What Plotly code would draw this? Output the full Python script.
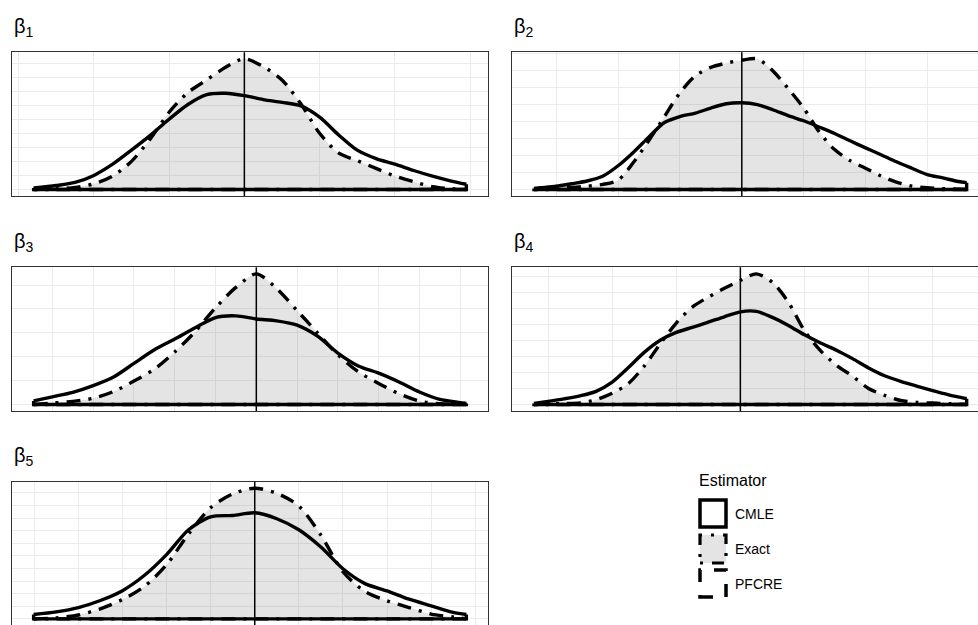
import plotly.graph_objects as go

# ---------------- data (density estimates) ----------------
panel_names = ["β<sub>1</sub>", "β<sub>2</sub>", "β<sub>3</sub>", "β<sub>4</sub>", "β<sub>5</sub>"]
true_values = [0, 0, 0, 0, 0]

p1_x = [-0.28, -0.25, -0.225, -0.2, -0.175, -0.15, -0.125, -0.1, -0.075, -0.05, -0.025, 0,
        0.025, 0.05, 0.075, 0.1, 0.125, 0.15, 0.175, 0.2, 0.225, 0.25, 0.275, 0.295]
p1_exact = [0, 0.005, 0.015, 0.04, 0.095, 0.20, 0.36, 0.55, 0.69, 0.78, 0.87, 0.93,
            0.875, 0.78, 0.61, 0.40, 0.26, 0.205, 0.15, 0.095, 0.055, 0.02, 0.005, 0]
p1_cmle = [0.01, 0.028, 0.05, 0.10, 0.18, 0.28, 0.385, 0.50, 0.605, 0.675, 0.685, 0.668,
           0.64, 0.62, 0.595, 0.515, 0.39, 0.28, 0.22, 0.18, 0.135, 0.095, 0.06, 0.037]

p2_x = [-0.336, -0.325, -0.3, -0.275, -0.25, -0.225, -0.2, -0.175, -0.15, -0.125, -0.1, -0.075,
        -0.05, -0.025, 0, 0.025, 0.05, 0.075, 0.1, 0.125, 0.15, 0.175, 0.2, 0.225, 0.25, 0.275,
        0.3, 0.325, 0.35, 0.3635]
p2_exact = [0, 0.002, 0.007, 0.012, 0.019, 0.03, 0.055, 0.16, 0.29, 0.43, 0.57, 0.67,
            0.72, 0.745, 0.762, 0.77, 0.70, 0.595, 0.48, 0.34, 0.235, 0.17, 0.125, 0.08, 0.043,
            0.02, 0.01, 0.005, 0.002, 0]
p2_cmle = [0.006, 0.01, 0.019, 0.034, 0.05, 0.078, 0.14, 0.22, 0.31, 0.395, 0.43, 0.45,
           0.48, 0.505, 0.511, 0.50, 0.47, 0.435, 0.405, 0.368, 0.33, 0.287, 0.245, 0.205, 0.163,
           0.125, 0.088, 0.068, 0.047, 0.04]

p3_x = [-0.546, -0.5, -0.45, -0.4, -0.35, -0.3, -0.25, -0.2, -0.15, -0.1, -0.05, 0,
        0.05, 0.1, 0.15, 0.2, 0.25, 0.3, 0.35, 0.4, 0.45, 0.5, 0.515]
p3_exact = [0, 0.006, 0.013, 0.026, 0.054, 0.098, 0.148, 0.22, 0.305, 0.405, 0.49, 0.547,
            0.485, 0.393, 0.30, 0.208, 0.137, 0.088, 0.045, 0.014, 0.003, 0.001, 0]
p3_cmle = [0.015, 0.032, 0.051, 0.079, 0.115, 0.172, 0.229, 0.274, 0.321, 0.364, 0.371, 0.358,
           0.35, 0.332, 0.286, 0.215, 0.161, 0.131, 0.094, 0.052, 0.021, 0.008, 0.004]

p4_x = [-0.322, -0.3, -0.275, -0.25, -0.225, -0.2, -0.175, -0.15, -0.125, -0.1, -0.075, -0.05,
        -0.025, 0, 0.025, 0.05, 0.075, 0.1, 0.125, 0.15, 0.175, 0.2, 0.225, 0.25, 0.275, 0.3,
        0.325, 0.353]
p4_exact = [0, 0.003, 0.006, 0.01, 0.03, 0.07, 0.13, 0.24, 0.38, 0.51, 0.61, 0.672,
            0.727, 0.776, 0.818, 0.765, 0.64, 0.462, 0.337, 0.245, 0.177, 0.10, 0.057, 0.025,
            0.013, 0.009, 0.005, 0]
p4_cmle = [0.006, 0.019, 0.035, 0.054, 0.082, 0.14, 0.23, 0.326, 0.402, 0.451, 0.483, 0.515,
           0.549, 0.58, 0.583, 0.545, 0.495, 0.436, 0.385, 0.34, 0.287, 0.229, 0.18, 0.145,
           0.115, 0.086, 0.06, 0.036]

p5_x = [-0.5015, -0.45, -0.4, -0.35, -0.3, -0.25, -0.2, -0.15, -0.1, -0.05, 0,
        0.05, 0.1, 0.15, 0.2, 0.25, 0.3, 0.35, 0.4, 0.45, 0.48]
p5_exact = [0, 0.008, 0.031, 0.08, 0.153, 0.258, 0.43, 0.675, 0.883, 0.992, 1.037,
            0.997, 0.896, 0.665, 0.374, 0.218, 0.144, 0.09, 0.038, 0.015, 0]
p5_cmle = [0.035, 0.056, 0.09, 0.146, 0.224, 0.346, 0.51, 0.707, 0.81, 0.821, 0.842,
           0.795, 0.707, 0.57, 0.398, 0.28, 0.222, 0.156, 0.104, 0.052, 0.035]

estimators = ["CMLE", "Exact", "PFCRE"]

panels = [
    (p1_x, p1_exact, p1_cmle),
    (p2_x, p2_exact, p2_cmle),
    (p3_x, p3_exact, p3_cmle),
    (p4_x, p4_exact, p4_cmle),
    (p5_x, p5_exact, p5_cmle),
]

# ---------------- layout geometry (pixels) ----------------
W, H = 978, 625
boxes = [
    (12, 488, 52.3, 196),
    (512.3, 988.3, 52.3, 196),
    (12, 488, 267.3, 411),
    (512.3, 988.3, 267.3, 411),
    (12, 488, 481.7, 625.4),
]

FILL = "rgba(128,128,128,0.21)"
LW = 3.4
DASHDOT = "14px,8px,3px,8px"
GRID = "#EBEBEB"
BORDER = "#333333"

fig = go.Figure()
layout = dict(
    width=W, height=H,
    margin=dict(l=0, r=0, t=0, b=0),
    paper_bgcolor="white", plot_bgcolor="white",
    showlegend=False,
    font=dict(family="Liberation Sans, Arial, sans-serif", color="black"),
)
shapes = []
annotations = []


def px2x(px):
    return px / W


def py2y(py):
    return 1 - py / H


for i, ((xs, ex, cm), (l, r, t, b)) in enumerate(zip(panels, boxes)):
    n = i + 1
    xa = "x" if n == 1 else f"x{n}"
    ya = "y" if n == 1 else f"y{n}"
    xkey = "xaxis" if n == 1 else f"xaxis{n}"
    ykey = "yaxis" if n == 1 else f"yaxis{n}"

    # ggplot-like 5% expansion of the data range, then clip to the visible window
    xlo_d, xhi_d = min(xs), max(xs)
    sx = xhi_d - xlo_d
    xlo, xhi = xlo_d - 0.05 * sx, xhi_d + 0.05 * sx
    r_vis = min(r, W)
    xhi_vis = xlo + (xhi - xlo) * (r_vis - l) / (r - l)

    ymax = max(max(ex), max(cm))
    ylo, yhi = -0.05 * ymax, 1.05 * ymax
    b_vis = min(b, H)
    ylo_vis = yhi - (yhi - ylo) * (b_vis - t) / (b - t)

    common = dict(showticklabels=False, ticks="", zeroline=False, fixedrange=True,
                  showgrid=True, gridcolor=GRID, gridwidth=1.1, showline=True,
                  linecolor=BORDER, linewidth=1.3)
    layout[xkey] = dict(domain=[px2x(l), px2x(r_vis)], range=[xlo, xhi_vis], anchor=ya,
                        tick0=0, dtick=0.2,
                        minor=dict(tick0=0, dtick=0.1, showgrid=True, gridcolor=GRID, gridwidth=0.6),
                        mirror=True, **common)
    layout[ykey] = dict(domain=[py2y(b_vis), py2y(t)], range=[ylo_vis, yhi], anchor=xa,
                        tick0=0, dtick=0.2,
                        minor=dict(tick0=0, dtick=0.1, showgrid=True, gridcolor=GRID, gridwidth=0.6),
                        mirror=(r <= W), **common)

    # Exact: filled density
    fig.add_trace(go.Scatter(x=xs, y=ex, mode="lines", xaxis=xa, yaxis=ya,
                             line=dict(width=0, shape="spline", smoothing=0.8),
                             fill="tozeroy", fillcolor=FILL, hoverinfo="skip"))
    fig.add_trace(go.Scatter(x=xs, y=ex, mode="lines", xaxis=xa, yaxis=ya, name="Exact",
                             line=dict(width=LW, color="black", dash=DASHDOT, shape="spline", smoothing=0.8),
                             hoverinfo="skip"))
    fig.add_trace(go.Scatter(x=[xs[-1], xs[-1], xs[0], xs[0]], y=[ex[-1], 0, 0, ex[0]],
                             mode="lines", xaxis=xa, yaxis=ya,
                             line=dict(width=LW, color="black", dash=DASHDOT), hoverinfo="skip"))
    # CMLE: outline density
    fig.add_trace(go.Scatter(x=xs, y=cm, mode="lines", xaxis=xa, yaxis=ya, name="CMLE",
                             line=dict(width=LW, color="black", shape="spline", smoothing=0.8),
                             hoverinfo="skip"))
    fig.add_trace(go.Scatter(x=[xs[-1], xs[-1], xs[0], xs[0]], y=[cm[-1], 0, 0, cm[0]],
                             mode="lines", xaxis=xa, yaxis=ya,
                             line=dict(width=LW, color="black"), hoverinfo="skip"))

    # true value line
    shapes.append(dict(type="line", xref=xa, yref=f"{ya} domain",
                       x0=true_values[i], x1=true_values[i], y0=0, y1=1,
                       line=dict(color="black", width=1.5)))

    # panel title
    annotations.append(dict(text=panel_names[i], xref="paper", yref="paper",
                            x=px2x(l), y=py2y(t - 25), xanchor="left", yanchor="middle",
                            showarrow=False, font=dict(size=20, color="black")))

# ---------------- legend (drawn as keys + labels) ----------------
annotations.append(dict(text="Estimator", xref="paper", yref="paper",
                        x=px2x(697), y=py2y(481), xanchor="left", yanchor="middle",
                        showarrow=False, font=dict(size=16, color="black")))
key_rows = [(500, 527), (535, 563), (570, 597)]
key_styles = [
    dict(line=dict(color="black", width=3.5), fillcolor="rgba(0,0,0,0)"),
    dict(line=dict(color="black", width=3.2, dash="3px,9px,12px,9px"), fillcolor=FILL),
    dict(line=dict(color="black", width=3.5, dash="13px,13px"), fillcolor="rgba(0,0,0,0)"),
]
for (y0, y1), st, name in zip(key_rows, key_styles, estimators):
    shapes.append(dict(type="rect", xref="paper", yref="paper",
                       x0=px2x(700), x1=px2x(726), y0=py2y(y1), y1=py2y(y0), **st))
    annotations.append(dict(text=name, xref="paper", yref="paper",
                            x=px2x(733), y=py2y((y0 + y1) / 2), xanchor="left", yanchor="middle",
                            showarrow=False, font=dict(size=14, color="black")))

layout["shapes"] = shapes
layout["annotations"] = annotations
fig.update_layout(**layout)
fig.write_html("out.html")
